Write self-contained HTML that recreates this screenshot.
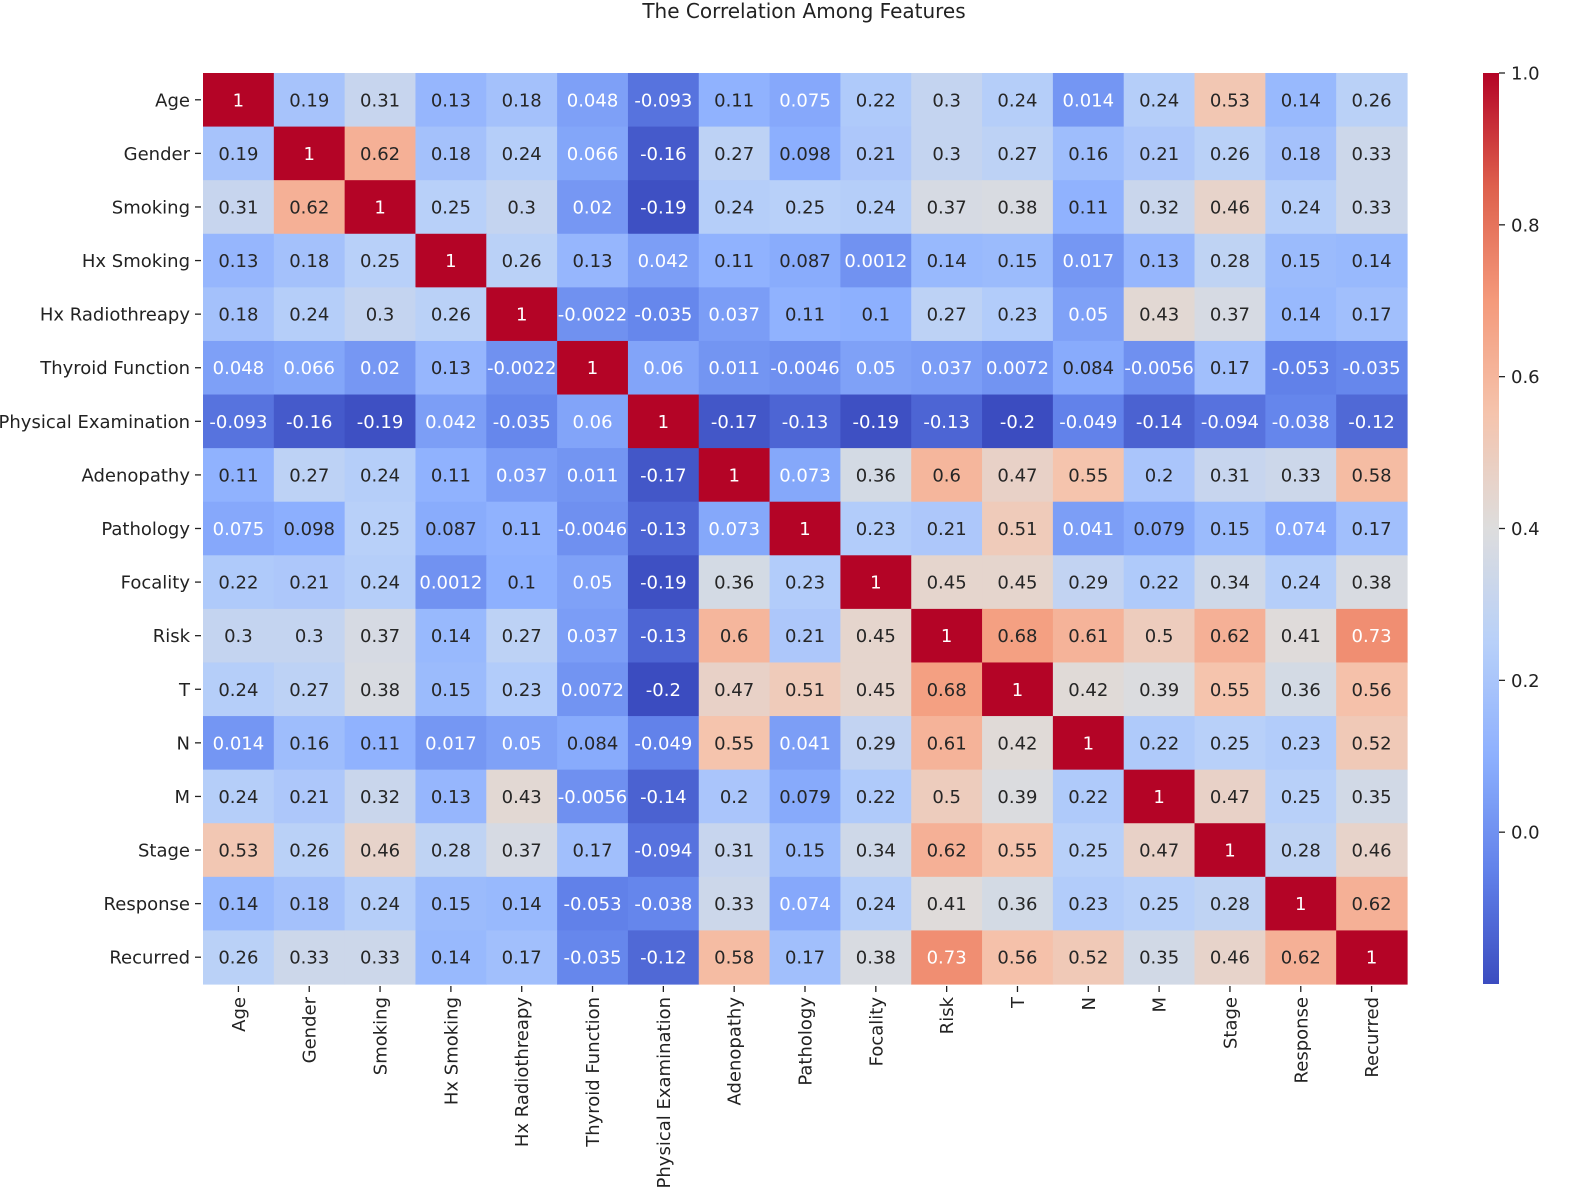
<!DOCTYPE html>
<html><head><meta charset="utf-8"><style>
html,body{margin:0;padding:0;background:#fff;}
svg{display:block;font-family:"DejaVu Sans","Liberation Sans",sans-serif;}
</style></head><body>
<svg id="chart" width="1575" height="1195" viewBox="0 0 1575 1195">
<text x="804" y="18" text-anchor="middle" font-size="20" fill="#222">The Correlation Among Features</text>
<g id="cells"></g>
<g id="ylabels"></g>
<g id="xlabels"></g>
<defs><linearGradient id="cbgrad" x1="0" y1="1" x2="0" y2="0"></linearGradient></defs>
<rect x="1483" y="73" width="16" height="911" fill="url(#cbgrad)"/>
<g id="cbticks"></g>
</svg>
<script>
const features = ["Age","Gender","Smoking","Hx Smoking","Hx Radiothreapy","Thyroid Function","Physical Examination","Adenopathy","Pathology","Focality","Risk","T","N","M","Stage","Response","Recurred"];
const rowAge = [1,.19,.31,.13,.18,.048,-.093,.11,.075,.22,.3,.24,.014,.24,.53,.14,.26];
const rowGender = [.19,1,.62,.18,.24,.066,-.16,.27,.098,.21,.3,.27,.16,.21,.26,.18,.33];
const rowSmoking = [.31,.62,1,.25,.3,.02,-.19,.24,.25,.24,.37,.38,.11,.32,.46,.24,.33];
const rowHxSmoking = [.13,.18,.25,1,.26,.13,.042,.11,.087,.0012,.14,.15,.017,.13,.28,.15,.14];
const rowHxRadio = [.18,.24,.3,.26,1,-.0022,-.035,.037,.11,.1,.27,.23,.05,.43,.37,.14,.17];
const rowThyroid = [.048,.066,.02,.13,-.0022,1,.06,.011,-.0046,.05,.037,.0072,.084,-.0056,.17,-.053,-.035];
const rowPhysical = [-.093,-.16,-.19,.042,-.035,.06,1,-.17,-.13,-.19,-.13,-.2,-.049,-.14,-.094,-.038,-.12];
const rowAdenopathy = [.11,.27,.24,.11,.037,.011,-.17,1,.073,.36,.6,.47,.55,.2,.31,.33,.58];
const rowPathology = [.075,.098,.25,.087,.11,-.0046,-.13,.073,1,.23,.21,.51,.041,.079,.15,.074,.17];
const rowFocality = [.22,.21,.24,.0012,.1,.05,-.19,.36,.23,1,.45,.45,.29,.22,.34,.24,.38];
const rowRisk = [.3,.3,.37,.14,.27,.037,-.13,.6,.21,.45,1,.68,.61,.5,.62,.41,.73];
const rowT = [.24,.27,.38,.15,.23,.0072,-.2,.47,.51,.45,.68,1,.42,.39,.55,.36,.56];
const rowN = [.014,.16,.11,.017,.05,.084,-.049,.55,.041,.29,.61,.42,1,.22,.25,.23,.52];
const rowM = [.24,.21,.32,.13,.43,-.0056,-.14,.2,.079,.22,.5,.39,.22,1,.47,.25,.35];
const rowStage = [.53,.26,.46,.28,.37,.17,-.094,.31,.15,.34,.62,.55,.25,.47,1,.28,.46];
const rowResponse = [.14,.18,.24,.15,.14,-.053,-.038,.33,.074,.24,.41,.36,.23,.25,.28,1,.62];
const rowRecurred = [.26,.33,.33,.14,.17,-.035,-.12,.58,.17,.38,.73,.56,.52,.35,.46,.62,1];
const matrix = [rowAge,rowGender,rowSmoking,rowHxSmoking,rowHxRadio,rowThyroid,rowPhysical,rowAdenopathy,rowPathology,rowFocality,rowRisk,rowT,rowN,rowM,rowStage,rowResponse,rowRecurred];
const cbTickValues = [0.0,0.2,0.4,0.6,0.8,1.0];
const cbTickLabels = ["0.0","0.2","0.4","0.6","0.8","1.0"];

const NS="http://www.w3.org/2000/svg";
const X0=203,X1=1407,Y0=73,Y1=984,n=features.length;
const cw=(X1-X0)/n, ch=(Y1-Y0)/n;
let vmin=Infinity,vmax=-Infinity;
matrix.forEach(r=>r.forEach(v=>{vmin=Math.min(vmin,v);vmax=Math.max(vmax,v);}));
const xPos=i=>X0+i*cw, yPos=i=>Y0+i*ch;
const cbY=v=>Y1-(v-vmin)/(vmax-vmin)*(Y1-Y0);
const cmStops=[[0,59,76,192],[.125,98,130,234],[.25,141,176,254],[.375,184,208,249],[.5,221,221,221],[.625,245,196,173],[.75,244,154,123],[.875,222,96,77],[1,180,4,38]];
function cmap(t){t=Math.max(0,Math.min(1,t));for(let i=1;i<cmStops.length;i++){const a=cmStops[i-1],b=cmStops[i];if(t<=b[0]){const f=(t-a[0])/(b[0]-a[0]);return [1,2,3].map(k=>Math.round(a[k]+(b[k]-a[k])*f));}}return cmStops[cmStops.length-1].slice(1);}
function lum(c){const l=c.map(x=>{x/=255;return x<=0.03928?x/12.92:Math.pow((x+0.055)/1.055,2.4);});return 0.2126*l[0]+0.7152*l[1]+0.0722*l[2];}
const cells=document.getElementById('cells');
matrix.forEach((row,r)=>row.forEach((v,c)=>{
  const col=cmap((v-vmin)/(vmax-vmin));
  const rect=document.createElementNS(NS,'rect');
  rect.setAttribute('x',xPos(c));rect.setAttribute('y',yPos(r));
  rect.setAttribute('width',cw+0.6);rect.setAttribute('height',ch+0.6);
  rect.setAttribute('fill',`rgb(${col})`);
  
  
  cells.appendChild(rect);
  const t=document.createElementNS(NS,'text');
  t.setAttribute('x',xPos(c)+cw/2);t.setAttribute('y',yPos(r)+ch/2+6.5);
  t.setAttribute('text-anchor','middle');t.setAttribute('font-size','18');
  t.setAttribute('fill',lum(col)>0.408?'#262626':'#ffffff');
  t.textContent=String(Number(v.toPrecision(2)));
  
  
  cells.appendChild(t);
}));
const yl=document.getElementById('ylabels'),xl=document.getElementById('xlabels');
features.forEach((f,i)=>{
  const t=document.createElementNS(NS,'text');
  t.setAttribute('x',X0-13);t.setAttribute('y',yPos(i)+ch/2+6.5);
  t.setAttribute('text-anchor','end');t.setAttribute('font-size','18');t.setAttribute('fill','#222');
  t.textContent=f;
  
  
  yl.appendChild(t);
  const tk=document.createElementNS(NS,'line');
  tk.setAttribute('x1',X0-8);tk.setAttribute('x2',X0-2);tk.setAttribute('y1',yPos(i)+ch/2);tk.setAttribute('y2',yPos(i)+ch/2);
  tk.setAttribute('stroke','#222');tk.setAttribute('stroke-width','1.3');
  
  
  yl.appendChild(tk);
  const xt=document.createElementNS(NS,'text');
  const cx=xPos(i)+cw/2+6.5;
  xt.setAttribute('transform',`translate(${cx},${Y1+13}) rotate(-90)`);
  xt.setAttribute('text-anchor','end');xt.setAttribute('font-size','18');xt.setAttribute('fill','#222');
  xt.textContent=f;
  
  
  xl.appendChild(xt);
  const xtk=document.createElementNS(NS,'line');
  xtk.setAttribute('x1',xPos(i)+cw/2);xtk.setAttribute('x2',xPos(i)+cw/2);xtk.setAttribute('y1',Y1+2);xtk.setAttribute('y2',Y1+8);
  xtk.setAttribute('stroke','#222');xtk.setAttribute('stroke-width','1.3');
  
  
  xl.appendChild(xtk);
});
const grad=document.getElementById('cbgrad');
for(let i=0;i<=40;i++){const s=document.createElementNS(NS,'stop');s.setAttribute('offset',i/40);s.setAttribute('stop-color',`rgb(${cmap(i/40)})`);grad.appendChild(s);}
const cbt=document.getElementById('cbticks');
cbTickValues.forEach((v,i)=>{
  const y=cbY(v);
  const l=document.createElementNS(NS,'line');
  l.setAttribute('x1',1499);l.setAttribute('x2',1505);l.setAttribute('y1',y);l.setAttribute('y2',y);
  l.setAttribute('stroke','#222');l.setAttribute('stroke-width','1.3');
  
  
  cbt.appendChild(l);
  const t=document.createElementNS(NS,'text');
  t.setAttribute('x',1511);t.setAttribute('y',y+6.5);t.setAttribute('font-size','18');t.setAttribute('fill','#222');
  t.textContent=cbTickLabels[i];
  
  
  cbt.appendChild(t);
});
</script>
</body></html>
